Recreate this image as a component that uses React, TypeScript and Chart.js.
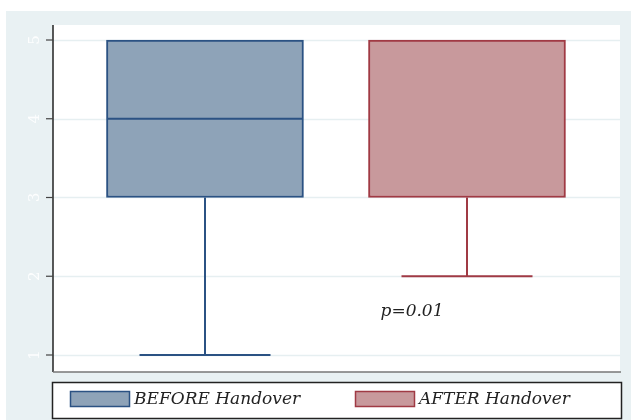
import React, { useEffect, useRef } from "react";
import { Chart, registerables } from "chart.js";

Chart.register(...registerables);

const categories = ["BEFORE Handover", "AFTER Handover"];
const positions = [1, 2];
const q1Values = [3, 3];
const medianValues = [4, 5];
const q3Values = [5, 5];
const minValues = [1, 2];
const maxValues = [5, 5];
const yTicks = [1, 2, 3, 4, 5];
const annotationText = "p=0.01";
const annotationPos = { x: 1.67, y: 1.55 };

const fillColors = ["#8ea3b8", "#c8999c"];
const borderColors = ["#2b5283", "#a03a44"];

const boxPlugin = {
  id: "boxPlugin",
  beforeDraw(chart: any) {
    const ctx = chart.ctx;
    const { chartArea } = chart;
    const ys = chart.scales.y;
    ctx.save();
    ctx.fillStyle = "#ffffff";
    ctx.fillRect(0, 0, chart.width, chart.height);
    ctx.fillStyle = "#e9f1f3";
    ctx.fillRect(6, 11, chart.width - 6, chart.height - 11);
    ctx.fillStyle = "#ffffff";
    ctx.fillRect(chartArea.left, chartArea.top, chartArea.right - chartArea.left, chartArea.bottom - chartArea.top);
    ctx.strokeStyle = "#e6eff1";
    ctx.lineWidth = 1.5;
    yTicks.forEach((t) => {
      const py = Math.round(ys.getPixelForValue(t)) + 0.5;
      ctx.beginPath();
      ctx.moveTo(chartArea.left, py);
      ctx.lineTo(chartArea.right, py);
      ctx.stroke();
    });
    ctx.restore();
  },
  afterDatasetsDraw(chart: any) {
    const ctx = chart.ctx;
    const { chartArea } = chart;
    const xs = chart.scales.x;
    const ys = chart.scales.y;
    ctx.save();
    positions.forEach((p, i) => {
      const cx = Math.round(xs.getPixelForValue(p));
      const halfBox = 98;
      const capHalf = 65.5;
      ctx.strokeStyle = borderColors[i];
      ctx.lineWidth = 2;
      const yQ1 = ys.getPixelForValue(q1Values[i]);
      const yQ3 = ys.getPixelForValue(q3Values[i]);
      const yMin = ys.getPixelForValue(minValues[i]);
      const yMax = ys.getPixelForValue(maxValues[i]);
      const yMed = ys.getPixelForValue(medianValues[i]);
      ctx.beginPath();
      ctx.moveTo(cx, yQ1);
      ctx.lineTo(cx, yMin);
      ctx.moveTo(cx - capHalf, yMin);
      ctx.lineTo(cx + capHalf, yMin);
      if (maxValues[i] > q3Values[i]) {
        ctx.moveTo(cx, yQ3);
        ctx.lineTo(cx, yMax);
        ctx.moveTo(cx - capHalf, yMax);
        ctx.lineTo(cx + capHalf, yMax);
      }
      if (medianValues[i] > q1Values[i] && medianValues[i] < q3Values[i]) {
        ctx.moveTo(cx - halfBox, yMed);
        ctx.lineTo(cx + halfBox, yMed);
      }
      ctx.stroke();
    });
    ctx.strokeStyle = "#222222";
    ctx.lineWidth = 1.5;
    ctx.beginPath();
    ctx.moveTo(chartArea.left, chartArea.top);
    ctx.lineTo(chartArea.left, chartArea.bottom);
    ctx.stroke();
    ctx.strokeStyle = "#777777";
    ctx.lineWidth = 1.5;
    ctx.beginPath();
    ctx.moveTo(chartArea.left, chartArea.bottom);
    ctx.lineTo(chartArea.right + 1, chartArea.bottom);
    ctx.stroke();
    ctx.strokeStyle = "#444444";
    ctx.lineWidth = 1.2;
    yTicks.forEach((t) => {
      const py = ys.getPixelForValue(t);
      ctx.beginPath();
      ctx.moveTo(chartArea.left - 7, py);
      ctx.lineTo(chartArea.left, py);
      ctx.stroke();
      ctx.save();
      ctx.translate(35, py);
      ctx.rotate(-Math.PI / 2);
      ctx.fillStyle = "#fdfefe";
      ctx.font = "15px 'DejaVu Serif', serif";
      ctx.textAlign = "center";
      ctx.textBaseline = "middle";
      ctx.fillText(String(t), 0, 0);
      ctx.restore();
    });
    ctx.fillStyle = "#222222";
    ctx.font = "italic 17px 'DejaVu Serif', serif";
    ctx.textAlign = "left";
    ctx.textBaseline = "middle";
    ctx.fillText(annotationText, xs.getPixelForValue(annotationPos.x), ys.getPixelForValue(annotationPos.y));
    const lx = 52, ly = 382, lw = 569, lh = 36;
    ctx.fillStyle = "#ffffff";
    ctx.fillRect(lx, ly, lw, lh);
    ctx.strokeStyle = "#222222";
    ctx.lineWidth = 1.5;
    ctx.strokeRect(lx + 0.5, ly + 0.5, lw, lh);
    const swatchX = [70, 355];
    categories.forEach((c, i) => {
      ctx.fillStyle = fillColors[i];
      ctx.fillRect(swatchX[i], 391, 60, 16);
      ctx.strokeStyle = borderColors[i];
      ctx.lineWidth = 1.5;
      ctx.strokeRect(swatchX[i] + 0.5, 391.5, 59, 15);
      ctx.fillStyle = "#222222";
      ctx.font = "italic 17px 'DejaVu Serif', serif";
      ctx.textAlign = "left";
      ctx.textBaseline = "middle";
      ctx.fillText(c, swatchX[i] + 64, 400);
    });
    ctx.restore();
  },
};

export default function App() {
  const ref = useRef<HTMLCanvasElement>(null);
  useEffect(() => {
    if (!ref.current) return;
    const chart = new Chart(ref.current, {
      type: "bar",
      data: {
        datasets: [
          {
            label: "box",
            data: positions.map((p, i) => ({ x: p, y: [q1Values[i], q3Values[i]] })) as any,
            backgroundColor: fillColors,
            borderColor: borderColors,
            borderWidth: 2,
            borderSkipped: false,
            barThickness: 197,
            grouped: false,
          } as any,
        ],
      },
      options: {
        animation: false,
        responsive: false,
        maintainAspectRatio: false,
        layout: { padding: { left: 53, top: 25, right: 11, bottom: 48 } },
        plugins: { legend: { display: false }, tooltip: { enabled: false } },
        scales: {
          x: { type: "linear", display: false, offset: false, min: 0.42, max: 2.584 },
          y: { type: "linear", display: false, min: 0.7841, max: 5.1905 },
        },
      },
      plugins: [boxPlugin],
    });
    return () => chart.destroy();
  }, []);
  return (
    <div style={{ position: "fixed", left: 0, top: 0, width: 631, height: 420 }}>
      <canvas ref={ref} width={631} height={420} style={{ width: 631, height: 420 }} />
    </div>
  );
}
